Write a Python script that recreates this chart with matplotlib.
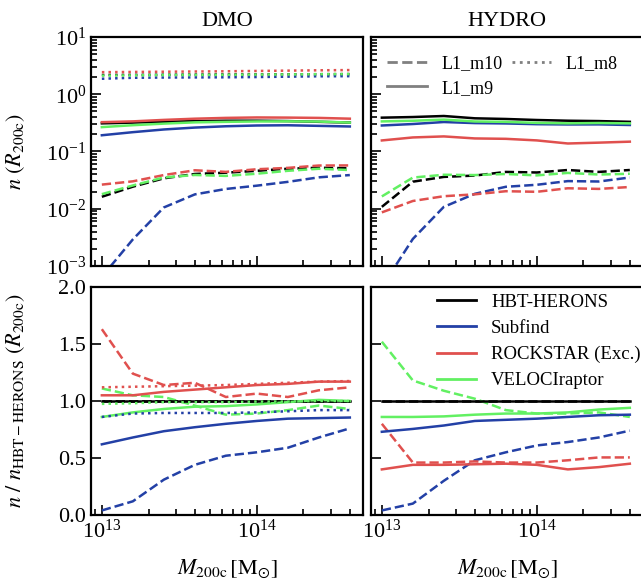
import numpy as np
import matplotlib
matplotlib.use("Agg")
import matplotlib.pyplot as plt
from matplotlib.lines import Line2D

plt.rcParams['font.family'] = ['Liberation Serif', 'DejaVu Serif']
plt.rcParams['mathtext.fontset'] = 'stix'

# Halo mass bins (log10 M200c)
log_mass = [13.0, 13.2, 13.4, 13.6, 13.8, 14.0, 14.2, 14.4, 14.6]

# HBT-HERONS number of subhaloes within R200c
hbt_dmo_m10 = [0.0162, 0.0243, 0.034, 0.0405, 0.0426, 0.046, 0.050, 0.052, 0.051]
hbt_dmo_m9 = [0.31, 0.32, 0.33, 0.34, 0.345, 0.345, 0.34, 0.33, 0.32]
hbt_dmo_m8 = [2.17, 2.18, 2.19, 2.20, 2.21, 2.22, 2.23, 2.24, 2.25]
hbt_hydro_m10 = [0.0108, 0.0297, 0.036, 0.038, 0.044, 0.043, 0.0475, 0.044, 0.0475]
hbt_hydro_m9 = [0.39, 0.40, 0.417, 0.38, 0.37, 0.355, 0.345, 0.34, 0.33]

# ratios relative to HBT-HERONS, DMO
sub_dmo_m10 = [0.04, 0.12, 0.31, 0.44, 0.52, 0.55, 0.59, 0.68, 0.76]
sub_dmo_m9 = [0.62, 0.68, 0.735, 0.77, 0.80, 0.825, 0.845, 0.85, 0.855]
sub_dmo_m8 = [0.86, 0.89, 0.895, 0.895, 0.895, 0.90, 0.91, 0.92, 0.92]
rock_dmo_m10 = [1.63, 1.24, 1.14, 1.16, 1.035, 1.065, 1.035, 1.094, 1.12]
rock_dmo_m9 = [1.05, 1.05, 1.08, 1.10, 1.12, 1.14, 1.15, 1.17, 1.17]
rock_dmo_m8 = [1.12, 1.125, 1.13, 1.135, 1.14, 1.15, 1.16, 1.17, 1.175]
vel_dmo_m10 = [1.11, 1.05, 1.035, 0.96, 0.88, 0.89, 0.92, 0.96, 0.93]
vel_dmo_m9 = [0.86, 0.90, 0.93, 0.95, 0.955, 0.97, 0.99, 1.01, 1.0]
vel_dmo_m8 = [0.975, 0.98, 0.99, 0.99, 0.99, 0.995, 0.995, 1.0, 1.0]

# ratios relative to HBT-HERONS, HYDRO
sub_hydro_m10 = [0.04, 0.10, 0.30, 0.48, 0.55, 0.61, 0.64, 0.68, 0.74]
sub_hydro_m9 = [0.73, 0.755, 0.785, 0.825, 0.835, 0.845, 0.86, 0.875, 0.88]
rock_hydro_m10 = [0.80, 0.46, 0.46, 0.47, 0.46, 0.46, 0.48, 0.505, 0.505]
rock_hydro_m9 = [0.40, 0.44, 0.44, 0.445, 0.45, 0.44, 0.40, 0.42, 0.45]
vel_hydro_m10 = [1.52, 1.18, 1.09, 1.02, 0.92, 0.89, 0.89, 0.90, 0.86]
vel_hydro_m9 = [0.86, 0.86, 0.865, 0.88, 0.89, 0.89, 0.90, 0.925, 0.94]

finders = ['HBT-HERONS', 'Subfind', 'ROCKSTAR (Exc.)', 'VELOCIraptor']
colours = {'HBT-HERONS': 'black', 'Subfind': '#2340a6',
           'ROCKSTAR (Exc.)': '#e0504e', 'VELOCIraptor': '#62f062'}
styles = {'L1_m10': '--', 'L1_m9': '-', 'L1_m8': ':'}

ones = [1.0] * len(log_mass)
runs = {
    'DMO': {
        'L1_m10': (hbt_dmo_m10, [ones, sub_dmo_m10, rock_dmo_m10, vel_dmo_m10]),
        'L1_m9': (hbt_dmo_m9, [ones, sub_dmo_m9, rock_dmo_m9, vel_dmo_m9]),
        'L1_m8': (hbt_dmo_m8, [ones, sub_dmo_m8, rock_dmo_m8, vel_dmo_m8]),
    },
    'HYDRO': {
        'L1_m10': (hbt_hydro_m10, [ones, sub_hydro_m10, rock_hydro_m10, vel_hydro_m10]),
        'L1_m9': (hbt_hydro_m9, [ones, sub_hydro_m9, rock_hydro_m9, vel_hydro_m9]),
    },
}

W, H = 641, 583
fig = plt.figure(figsize=(W / 100, H / 100), dpi=100)

def px_axes(x0, y0, x1, y1):
    return fig.add_axes([x0 / W, 1 - y1 / H, (x1 - x0) / W, (y1 - y0) / H])

axes = {
    ('DMO', 0): px_axes(91, 37, 363, 266),
    ('HYDRO', 0): px_axes(371, 37, 643, 266),
    ('DMO', 1): px_axes(91, 287, 363, 515),
    ('HYDRO', 1): px_axes(371, 287, 643, 515),
}

mass = 10 ** np.array(log_mass)
for run, data in runs.items():
    ax_n = axes[(run, 0)]
    ax_r = axes[(run, 1)]
    for res, (hbt, ratios) in data.items():
        for finder, ratio in zip(finders, ratios):
            n = np.array(hbt) * np.array(ratio)
            ax_n.plot(mass, n, ls=styles[res], color=colours[finder], lw=1.8)
            ax_r.plot(mass, ratio, ls=styles[res], color=colours[finder], lw=1.8)
    ax_n.set_title(run, fontsize=16, pad=8)

for (run, row), ax in axes.items():
    ax.set_xscale('log')
    ax.set_xlim(10 ** 12.93, 10 ** 14.685)
    ax.tick_params(which='both', direction='in', labelsize=16, width=1.2)
    ax.tick_params(which='major', length=7)
    ax.tick_params(which='minor', length=4)
    for sp in ax.spines.values():
        sp.set_linewidth(1.6)
    if row == 0:
        ax.set_yscale('log')
        ax.set_ylim(1e-3, 1e1)
        ax.tick_params(labelbottom=False)
    else:
        ax.set_ylim(0, 2.0)
        ax.set_yticks([0.0, 0.5, 1.0, 1.5, 2.0])
        ax.set_xlabel(r'$M_{\rm 200c}\,[\rm M_{\odot}]$', fontsize=16, labelpad=10)
    if run == 'HYDRO':
        ax.tick_params(labelleft=False)

axes[('DMO', 0)].set_ylabel(r'$n\ (R_{\rm 200c})$', fontsize=16)
axes[('DMO', 1)].set_ylabel(r'$n\ /\ n_{\rm HBT-HERONS}\ (R_{\rm 200c})$', fontsize=16)
axes[('DMO', 0)].yaxis.set_label_coords(-0.235, 0.5)
axes[('DMO', 1)].yaxis.set_label_coords(-0.235, 0.5)

# resolution legend
res_handles = [Line2D([], [], color='grey', ls=styles[r], lw=2) for r in ['L1_m10', 'L1_m9', 'L1_m8']]
axes[('HYDRO', 0)].legend(res_handles, ['L1_m10', 'L1_m9', 'L1_m8'], ncol=2, frameon=False,
                          loc='upper left', bbox_to_anchor=(0.0, 0.99), fontsize=13,
                          handlelength=2.2, columnspacing=0.5, labelspacing=0.4)

# finder legend
fin_handles = [Line2D([], [], color=colours[f], lw=2) for f in finders]
axes[('HYDRO', 1)].legend(fin_handles, finders, frameon=False, loc='upper left',
                          bbox_to_anchor=(0.18, 1.045), fontsize=13.5, handlelength=2.1,
                          labelspacing=0.48)

fig.savefig('out.png', dpi=100)
